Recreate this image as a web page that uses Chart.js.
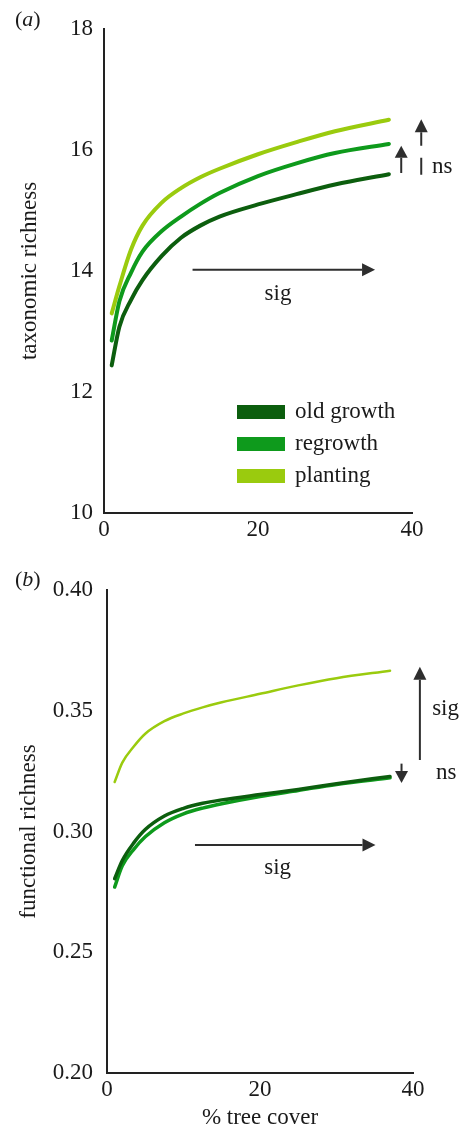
<!DOCTYPE html>
<html>
<head>
<meta charset="utf-8">
<script src="https://cdn.jsdelivr.net/npm/chart.js@4.4.1/dist/chart.umd.min.js"></script>
<style>
  html, body { margin: 0; padding: 0; background: #fff; }
  #wrap { position: relative; width: 461px; height: 1129px; overflow: hidden; }
  canvas { position: absolute; left: 0; }
  #taxo { top: 0; }
  #func { top: 560px; }
</style>
</head>
<body>
<div id="wrap">
  <canvas id="taxo" width="461" height="560"></canvas>
  <canvas id="func" width="461" height="569"></canvas>
</div>
<script>
// % tree cover at which each fitted curve is sampled
const treeCover = [1, 2, 3.5, 5, 7.5, 10, 12.5, 15, 20, 25, 30, 37];

// (a) taxonomic richness
const taxoOldGrowth = [12.44, 13.08, 13.52, 13.85, 14.25, 14.55, 14.75, 14.90, 15.10, 15.27, 15.43, 15.60];
const taxoRegrowth  = [12.85, 13.50, 13.97, 14.32, 14.66, 14.90, 15.11, 15.29, 15.57, 15.78, 15.95, 16.10];
const taxoPlanting  = [13.30, 13.75, 14.35, 14.75, 15.13, 15.37, 15.55, 15.69, 15.93, 16.13, 16.31, 16.50];

// (b) functional richness
const funcOldGrowth = [0.2805, 0.2880, 0.2953, 0.3008, 0.3064, 0.3096, 0.3117, 0.3131, 0.3153, 0.3174, 0.3198, 0.3228];
const funcRegrowth  = [0.2770, 0.2858, 0.2926, 0.2978, 0.3036, 0.3073, 0.3097, 0.3115, 0.3145, 0.3170, 0.3195, 0.3222];
const funcPlanting  = [0.3205, 0.3285, 0.3352, 0.3405, 0.3457, 0.3489, 0.3514, 0.3535, 0.3570, 0.3605, 0.3635, 0.3666];

const seriesNames = ['old growth', 'regrowth', 'planting'];
const coverTicks = [0, 20, 40];
const taxoTicks = [10, 12, 14, 16, 18];
const funcTicks = [0.20, 0.25, 0.30, 0.35, 0.40];

const COLORS = ['#0c5e0e', '#0e9a1c', '#9acb0e'];
const INK = '#1a1a1a';
const ARROW = '#2e2e2e';
const SERIF = "'Liberation Serif', 'Times New Roman', serif";

const points = ys => treeCover.map((x, i) => ({ x, y: ys[i] }));

function makeDatasets(values, widths) {
  return values.map((ys, i) => ({
    label: seriesNames[i],
    data: points(ys),
    borderColor: COLORS[i],
    backgroundColor: COLORS[i],
    borderWidth: widths[i],
    pointRadius: 0,
    cubicInterpolationMode: 'monotone',
    borderCapStyle: 'round',
    fill: false
  }));
}

function drawArrow(ctx, x0, y0, x1, y1, head, dashed) {
  const ang = Math.atan2(y1 - y0, x1 - x0);
  const W = 6.5;
  const bx = x1 - head * Math.cos(ang), by = y1 - head * Math.sin(ang);
  ctx.strokeStyle = ARROW;
  ctx.fillStyle = ARROW;
  ctx.lineWidth = 2;
  ctx.setLineDash(dashed ? [17, 12] : []);
  ctx.beginPath();
  ctx.moveTo(x0, y0);
  ctx.lineTo(bx, by);
  ctx.stroke();
  ctx.setLineDash([]);
  ctx.beginPath();
  ctx.moveTo(x1, y1);
  ctx.lineTo(bx + W * Math.sin(ang), by - W * Math.cos(ang));
  ctx.lineTo(bx - W * Math.sin(ang), by + W * Math.cos(ang));
  ctx.closePath();
  ctx.fill();
}

// Arrows, significance notes, panel letter and (optionally) the legend
const annotate = {
  id: 'annotate',
  afterDraw(chart, args, opts) {
    const { ctx, chartArea } = chart;
    const xs = chart.scales.x, ys = chart.scales.y;
    ctx.save();
    (opts.arrows || []).forEach(a => {
      drawArrow(ctx,
        xs.getPixelForValue(a.from[0]), ys.getPixelForValue(a.from[1]),
        xs.getPixelForValue(a.to[0]), ys.getPixelForValue(a.to[1]),
        a.head || 13, !!a.dashed);
    });
    ctx.fillStyle = INK;
    ctx.font = '23px ' + SERIF;
    ctx.textBaseline = 'middle';
    (opts.notes || []).forEach(n => {
      ctx.textAlign = n.align || 'center';
      ctx.fillText(n.text, xs.getPixelForValue(n.at[0]), ys.getPixelForValue(n.at[1]));
    });

    // panel letter: upright brackets around an italic letter
    if (opts.tag) {
      ctx.textAlign = 'left';
      let tx = 15;
      const ty = 20;
      ctx.font = '22px ' + SERIF;
      ctx.fillText('(', tx, ty); tx += ctx.measureText('(').width;
      ctx.font = 'italic 22px ' + SERIF;
      ctx.fillText(opts.tag, tx, ty); tx += ctx.measureText(opts.tag).width;
      ctx.font = '22px ' + SERIF;
      ctx.fillText(')', tx, ty);
    }

    if (opts.legend) {
      const L = opts.legend;
      chart.data.datasets.forEach((ds, i) => {
        const cy = L.top + i * L.step;
        ctx.fillStyle = ds.borderColor;
        ctx.fillRect(chartArea.left + L.left, cy - 7, 48, 14);
        ctx.fillStyle = INK;
        ctx.font = '23px ' + SERIF;
        ctx.textAlign = 'left';
        ctx.fillText(ds.label, chartArea.left + L.left + 58, cy);
      });
    }
    ctx.restore();
  }
};

function makeScales(o) {
  return {
    x: {
      type: 'linear', min: 0, max: 40,
      afterBuildTicks: s => { s.ticks = coverTicks.map(v => ({ value: v })); },
      afterFit: s => { s.height = o.xHeight; },
      grid: { display: false, drawTicks: false },
      border: { display: true, color: '#222', width: 2 },
      ticks: { font: { family: SERIF, size: 23 }, color: INK, padding: 3, maxRotation: 0, autoSkip: false },
      title: o.xTitle
        ? { display: true, text: o.xTitle, color: INK, font: { family: SERIF, size: 23, lineHeight: 1 }, padding: { top: 0, bottom: 0 } }
        : { display: false }
    },
    y: {
      type: 'linear', min: o.yMin, max: o.yMax,
      afterBuildTicks: s => { s.ticks = o.yTicks.map(v => ({ value: v })); },
      afterFit: s => { s.width = o.yWidth; },
      grid: { display: false, drawTicks: false },
      border: { display: true, color: '#222', width: 2 },
      ticks: { font: { family: SERIF, size: 23 }, color: INK, padding: o.tickPad, callback: o.fmt },
      title: { display: true, text: o.yTitle, color: INK, font: { family: SERIF, size: 23 }, padding: { top: o.titlePad, bottom: 0 } }
    }
  };
}

const common = {
  responsive: false,
  animation: false,
  devicePixelRatio: 1,
  events: []
};

new Chart(document.getElementById('taxo'), {
  type: 'line',
  data: { datasets: makeDatasets([taxoOldGrowth, taxoRegrowth, taxoPlanting], [4, 4, 4]) },
  options: {
    ...common,
    layout: { padding: { top: 29, right: 49, bottom: 0, left: 0 } },
    scales: makeScales({
      yMin: 10, yMax: 18, yTicks: taxoTicks, yWidth: 104, xHeight: 47,
      tickPad: 11, titlePad: 16, yTitle: 'taxonomic richness',
      fmt: v => String(v)
    }),
    plugins: {
      legend: { display: false },
      tooltip: { enabled: false },
      annotate: {
        tag: 'a',
        arrows: [
          { from: [11.5, 14.02], to: [35.2, 14.02] },
          { from: [38.6, 15.62], to: [38.6, 16.07], head: 12 },
          { from: [41.2, 15.59], to: [41.2, 16.51], dashed: true }
        ],
        notes: [
          { text: 'sig', at: [22.6, 13.62] },
          { text: 'ns', at: [42.6, 15.72], align: 'left' }
        ],
        legend: { left: 133, top: 412, step: 32 }
      }
    }
  },
  plugins: [annotate]
});

new Chart(document.getElementById('func'), {
  type: 'line',
  data: { datasets: makeDatasets([funcOldGrowth, funcRegrowth, funcPlanting], [3.5, 3.5, 2.5]) },
  options: {
    ...common,
    layout: { padding: { top: 30, right: 48, bottom: 0, left: 0 } },
    scales: makeScales({
      yMin: 0.20, yMax: 0.40, yTicks: funcTicks, yWidth: 107, xHeight: 56,
      tickPad: 14, titlePad: 15, yTitle: 'functional richness', xTitle: '% tree cover',
      fmt: v => Number(v).toFixed(2)
    }),
    plugins: {
      legend: { display: false },
      tooltip: { enabled: false },
      annotate: {
        tag: 'b',
        arrows: [
          { from: [11.5, 0.2944], to: [35.1, 0.2944] },
          { from: [40.9, 0.3296], to: [40.9, 0.3682] },
          { from: [38.5, 0.3281], to: [38.5, 0.3201], head: 12 }
        ],
        notes: [
          { text: 'sig', at: [22.3, 0.2848] },
          { text: 'sig', at: [42.5, 0.3507], align: 'left' },
          { text: 'ns', at: [43.0, 0.3242], align: 'left' }
        ]
      }
    }
  },
  plugins: [annotate]
});
</script>
</body>
</html>
